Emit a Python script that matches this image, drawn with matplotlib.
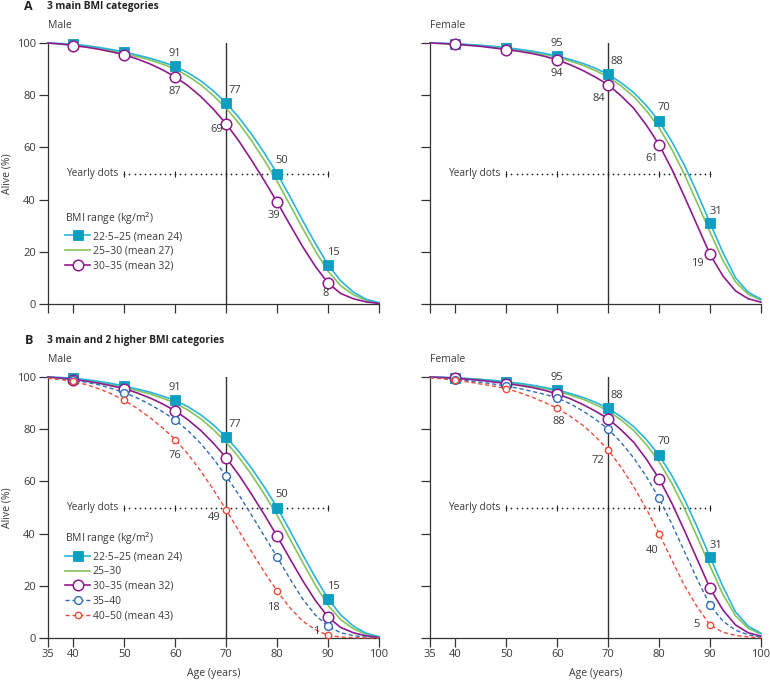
import matplotlib
matplotlib.use("Agg")
import matplotlib.pyplot as plt

plt.rcParams['font.family'] = ['Open Sans', 'DejaVu Sans']

ages = [35, 37.5, 40, 42.5, 45, 47.5, 50, 52.5, 55, 57.5, 60, 62.5, 65, 67.5,
        70, 72.5, 75, 77.5, 80, 82.5, 85, 87.5, 90, 92.5, 95, 97.5, 100]

# Male survival curves (% alive)
male_2225 = [100, 99.8, 99.5, 99, 98.3, 97.5, 96.5, 95.4, 94.2, 92.7, 91, 88.6, 85.5, 81.6,
             77, 71.4, 65, 57.8, 50, 41.2, 32, 23.2, 15, 8.8, 4.5, 1.8, 0.5]
male_2530 = [100, 99.7, 99.4, 98.8, 98.1, 97.1, 96, 94.8, 93.5, 91.9, 90, 87.3, 84, 79.8,
             75, 69.2, 62.5, 55, 47, 38, 29, 20.3, 12.5, 7, 3.5, 1.4, 0.4]
male_3035 = [100, 99.6, 99, 98.4, 97.6, 96.6, 95.5, 93.9, 92, 89.7, 87, 83.6, 79.5, 74.6,
             69, 62.4, 55, 47.2, 39, 30.4, 22, 14.4, 8, 4, 2, 0.8, 0.2]
male_3540 = [99.7, 99.3, 98.8, 98, 97, 95.6, 94, 92, 89.5, 86.7, 83.5, 79.4, 74.5, 68.6,
             62, 54.8, 47, 39, 31, 22.7, 15, 8.8, 4.5, 2, 0.9, 0.3, 0.1]
male_4050 = [99.5, 99, 98.3, 97.1, 95.5, 93.5, 91, 88, 84.5, 80.5, 76, 70.4, 64, 56.8,
             49, 41, 33, 25.2, 18, 11.6, 6.5, 3.2, 1, 0.4, 0.1, 0, 0]

# Female survival curves (% alive)
female_2225 = [100, 99.9, 99.7, 99.4, 99.1, 98.7, 98.2, 97.6, 96.9, 96, 95, 93.7, 92.2, 90.3,
               88, 84.8, 81, 76, 70, 62.2, 53, 42.4, 31, 19.8, 10, 4.5, 1.8]
female_2530 = [100, 99.8, 99.6, 99.3, 99, 98.5, 98, 97.3, 96.5, 95.6, 94.5, 93.1, 91.5, 89.4,
               87, 83.6, 79.5, 74.1, 67.5, 59.2, 49.5, 38.6, 27.5, 16.8, 8.5, 3.7, 1.5]
female_3035 = [100, 99.8, 99.5, 99.1, 98.7, 98.1, 97.5, 96.8, 96, 94.9, 93.5, 91.7, 89.5, 86.9,
               84, 79.8, 75, 68.5, 61, 51.6, 41, 30, 19, 10.8, 5, 2, 0.7]
female_3540 = [99.8, 99.5, 99, 98.5, 98, 97.3, 96.5, 95.6, 94.5, 93.4, 92, 89.8, 87, 83.8,
               80, 75, 69, 61.8, 53.5, 43.6, 33, 22.4, 12.5, 6.5, 3, 1.2, 0.4]
female_4050 = [99.7, 99.3, 98.7, 98.1, 97.3, 96.5, 95.5, 94.1, 92.3, 90.3, 88, 85, 81.5, 77.2,
               72, 65.5, 58, 49.4, 40, 29.8, 20, 11.8, 5, 2.2, 1, 0.4, 0.1]

marker_ages = [40, 50, 60, 70, 80, 90]
label_ages = [60, 70, 80, 90]
male_labels_2225 = [91, 77, 50, 15]
male_labels_3035 = [87, 69, 39, 8]
male_labels_4050 = [76, 49, 18, 1]
female_labels_2225 = [95, 88, 70, 31]
female_labels_3035 = [94, 84, 61, 19]
female_labels_4050 = [88, 72, 40, 5]

yearly_dot_ages = list(range(50, 91))
yearly_tick_ages = [50, 60, 70, 80, 90]

legend_names_A = ['22·5–25 (mean 24)', '25–30 (mean 27)', '30–35 (mean 32)']
legend_names_B = ['22·5–25 (mean 24)', '25–30', '30–35 (mean 32)', '35–40', '40–50 (mean 43)']

C_TEAL_LINE = '#2ab4da'
C_TEAL = '#0e9ec2'
C_GREEN = '#86c35a'
C_PURPLE = '#8e1b8d'
C_BLUE = '#2f6db8'
C_RED = '#ef4a3a'
TXT = '#3a3a3a'
AXC = '#333333'

W, H = 770, 682
fig = plt.figure(figsize=(W / 100, H / 100), dpi=100)


def make_ax(x0, x1, y100, y0):
    return fig.add_axes([x0 / W, 1 - y0 / H, (x1 - x0) / W, (y0 - y100) / H])


axA_m = make_ax(48, 379, 43, 304)
axA_f = make_ax(430, 761, 43, 304)
axB_m = make_ax(48, 379, 377, 638)
axB_f = make_ax(430, 761, 377, 638)

midx = [ages.index(a) for a in marker_ages]

STYLES = {
    '2225': dict(color=C_TEAL_LINE, lw=1.2, marker='s', ms=6.5, mfc=C_TEAL, mec=C_TEAL, mew=0.6),
    '2530': dict(color=C_GREEN, lw=1.2),
    '3035': dict(color=C_PURPLE, lw=1.2, marker='o', ms=7.6, mfc='white', mec=C_PURPLE, mew=1.1),
    '3540': dict(color=C_BLUE, lw=1.0, ls=(0, (3, 2)), marker='o', ms=5.6, mfc='white', mec=C_BLUE, mew=1.0),
    '4050': dict(color=C_RED, lw=1.0, ls=(0, (3, 2)), marker='o', ms=4.6, mfc='white', mec=C_RED, mew=1.0),
}

# label placement (dx in years, dy in %, ha, va) for each labelled age
TOP_PLACE = {60: (0, 2.8, 'center', 'bottom'), 70: (0.5, 2.8, 'left', 'bottom'),
             80: (-0.3, 3.0, 'left', 'bottom'), 90: (-0.2, 2.5, 'left', 'bottom')}
BOT_PLACE = {
    'A_m': {60: (0, -3.6, 'center', 'top'), 70: (-0.6, -0.2, 'right', 'top'),
            80: (0.5, -3.0, 'right', 'top'), 90: (0.1, -2.0, 'right', 'top')},
    'A_f': {60: (0, -3.0, 'center', 'top'), 70: (-0.6, -3.2, 'right', 'top'),
            80: (-0.2, -3.0, 'right', 'top'), 90: (-1.2, -1.5, 'right', 'top')},
    'B_m': {60: (0, -3.8, 'center', 'top'), 70: (-1.2, -0.8, 'right', 'top'),
            80: (0.6, -4.2, 'right', 'top'), 90: (-1.8, 1.3, 'right', 'center')},
    'B_f': {60: (0.3, -3.0, 'center', 'top'), 70: (-0.8, -2.0, 'right', 'top'),
            80: (-0.2, -4.2, 'right', 'top'), 90: (-2.1, 0.2, 'right', 'center')},
}

FS = 8.0


def draw_panel(ax, key, series, top_vals, top_labels, bot_vals, bot_labels,
               show_xlabels, show_ylabels, legend_names=None, legend_y=None):
    ax.set_xlim(35, 100)
    ax.set_ylim(0, 100)
    ax.plot([70, 70], [0, 100], color=AXC, lw=1.0, zorder=1)
    ax.plot(yearly_dot_ages, [50] * len(yearly_dot_ages), ls='none', marker='o', ms=1.25,
            mew=0, color='#222222', zorder=2)
    ax.plot(yearly_tick_ages, [50] * len(yearly_tick_ages), ls='none', marker='|', ms=4,
            mew=0.8, color='#222222', zorder=2)
    ax.text(48.8, 50, 'Yearly dots', ha='right', va='center', fontsize=7.3, color=TXT)

    handles = []
    for skey, vals in series:
        kw = dict(STYLES[skey])
        if 'marker' in kw:
            line, = ax.plot(ages, vals, markevery=midx, zorder=4, clip_on=False, **kw)
        else:
            line, = ax.plot(ages, vals, zorder=3, **kw)
        handles.append(line)

    for a, lab in zip(label_ages, top_labels):
        v = top_vals[ages.index(a)]
        dx, dy, ha, va = TOP_PLACE[a]
        ax.text(a + dx, v + dy, str(lab), ha=ha, va=va, fontsize=FS, color=TXT, zorder=5)
    for a, lab in zip(label_ages, bot_labels):
        v = bot_vals[ages.index(a)]
        dx, dy, ha, va = BOT_PLACE[key][a]
        ax.text(a + dx, v + dy, str(lab), ha=ha, va=va, fontsize=FS, color=TXT, zorder=5)

    for s in ['top', 'right']:
        ax.spines[s].set_visible(False)
    for s in ['left', 'bottom']:
        ax.spines[s].set_color(AXC)
        ax.spines[s].set_linewidth(0.9)
    ax.set_xticks([35, 40, 50, 60, 70, 80, 90, 100])
    ax.set_yticks([0, 20, 40, 60, 80, 100])
    ax.tick_params(axis='both', direction='out', length=6.2, width=0.9, color=AXC,
                   labelsize=FS, labelcolor=TXT)
    ax.tick_params(axis='y', pad=2.5)
    ax.tick_params(axis='x', pad=1.5)
    if not show_xlabels:
        ax.set_xticklabels([])
    else:
        ax.set_xlabel('Age (years)', fontsize=7.6, color=TXT, labelpad=6)
    if not show_ylabels:
        ax.set_yticklabels([])
    else:
        ax.set_ylabel('Alive (%)', fontsize=7.6, color=TXT, labelpad=3)

    if legend_names is not None:
        leg = ax.legend(handles, legend_names, title='BMI range (kg/m$^2$)',
                        loc='upper left', bbox_to_anchor=(0.052, legend_y),
                        frameon=False, fontsize=7.5, title_fontsize=7.5,
                        handlelength=2.4, handletextpad=0.25, labelspacing=0.36,
                        borderaxespad=0, borderpad=0, alignment='left')
        for t in leg.get_texts():
            t.set_color(TXT)
        leg.get_title().set_color(TXT)
        leg._legend_box.sep = 3


draw_panel(axA_m, 'A_m',
           [('2225', male_2225), ('2530', male_2530), ('3035', male_3035)],
           male_2225, male_labels_2225, male_3035, male_labels_3035,
           False, True, legend_names_A, 0.36)
draw_panel(axA_f, 'A_f',
           [('2225', female_2225), ('2530', female_2530), ('3035', female_3035)],
           female_2225, female_labels_2225, female_3035, female_labels_3035,
           False, False)
draw_panel(axB_m, 'B_m',
           [('2225', male_2225), ('2530', male_2530), ('3035', male_3035),
            ('3540', male_3540), ('4050', male_4050)],
           male_2225, male_labels_2225, male_4050, male_labels_4050,
           True, True, legend_names_B, 0.412)
draw_panel(axB_f, 'B_f',
           [('2225', female_2225), ('2530', female_2530), ('3035', female_3035),
            ('3540', female_3540), ('4050', female_4050)],
           female_2225, female_labels_2225, female_4050, female_labels_4050,
           True, False)

fig.text(24 / W, 1 - 7 / H, 'A', fontsize=9, fontweight='bold', color='#222222', va='center')
fig.text(47 / W, 1 - 7 / H, '3 main BMI categories', fontsize=7.3, fontweight='bold',
         color='#222222', va='center')
fig.text(48 / W, 1 - 26 / H, 'Male', fontsize=7.5, color=TXT, va='center')
fig.text(430 / W, 1 - 26 / H, 'Female', fontsize=7.5, color=TXT, va='center')
fig.text(25 / W, 1 - 341 / H, 'B', fontsize=9, fontweight='bold', color='#222222', va='center')
fig.text(47 / W, 1 - 341 / H, '3 main and 2 higher BMI categories', fontsize=7.3,
         fontweight='bold', color='#222222', va='center')
fig.text(48 / W, 1 - 360 / H, 'Male', fontsize=7.5, color=TXT, va='center')
fig.text(430 / W, 1 - 360 / H, 'Female', fontsize=7.5, color=TXT, va='center')

fig.savefig('out.png', dpi=100)
